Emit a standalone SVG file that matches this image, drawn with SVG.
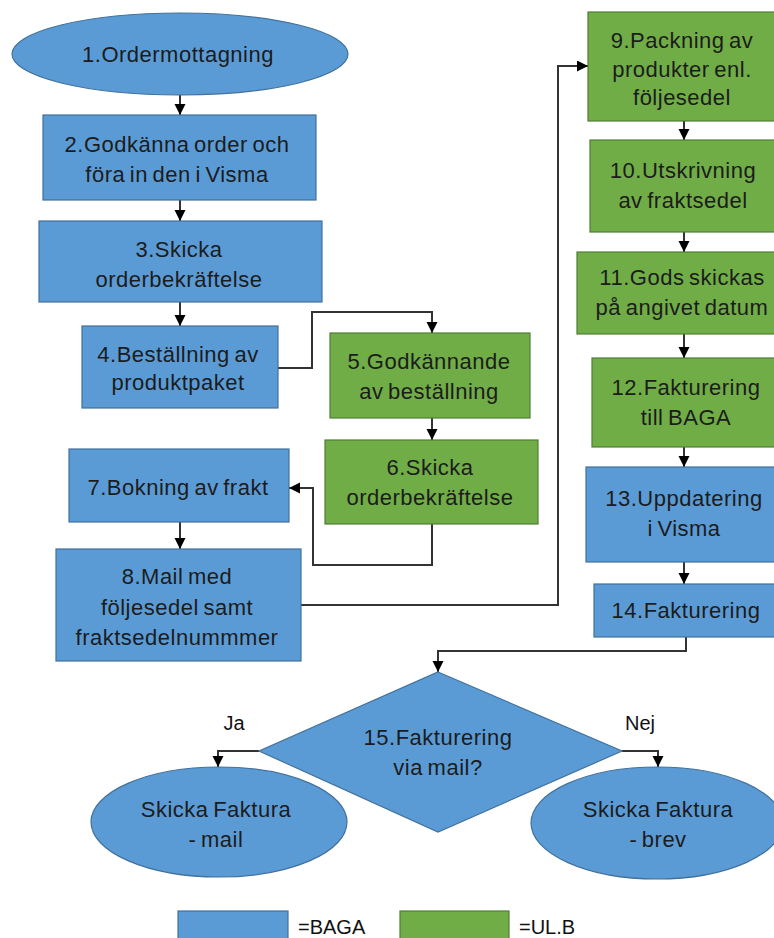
<svg xmlns="http://www.w3.org/2000/svg" width="774" height="938" viewBox="0 0 774 938">
  <defs>
    <marker id="arrow" markerUnits="userSpaceOnUse" markerWidth="12" markerHeight="12" refX="11" refY="5.5" orient="auto">
      <path d="M0,0 L11,5.5 L0,11 z" fill="#000"/>
    </marker>
    <style>
      .baga { fill: #5b9bd5; stroke: #41719c; stroke-width: 1.2; }
      .ulb { fill: #70ad47; stroke: #507e32; stroke-width: 1.2; }
      .lbl { font-family: "Liberation Sans", Arial, sans-serif; font-size: 22px; fill: #1c1c1c; text-anchor: middle; letter-spacing: 0.5px; word-spacing: -2px; }
      .side { font-family: "Liberation Sans", Arial, sans-serif; font-size: 20px; fill: #111; text-anchor: middle; }
      .legend { font-family: "Liberation Sans", Arial, sans-serif; font-size: 20px; fill: #111; }
      .conn { fill: none; stroke: #333; stroke-width: 2; marker-end: url(#arrow); }
      .conn-plain { fill: none; stroke: #333; stroke-width: 2; }
    </style>
  </defs>
  <rect width="774" height="938" fill="#fff"/>

  <!-- connectors -->
  <g id="connectors">
    <path class="conn" d="M180,95 V115"/>
    <path class="conn" d="M180,200 V221"/>
    <path class="conn" d="M180,302 V326"/>
    <path class="conn" d="M278,368 H312 V312 H432 V333"/>
    <path class="conn" d="M432,418 V440"/>
    <path class="conn" d="M432,524 V565 H313 V488 H289"/>
    <path class="conn" d="M180,522 V549"/>
    <path class="conn" d="M301,605 H558 V66 H588"/>
    <path class="conn" d="M684,121 V140"/>
    <path class="conn" d="M684,232 V252"/>
    <path class="conn" d="M684,334 V358"/>
    <path class="conn" d="M684,447 V467"/>
    <path class="conn" d="M684,562 V584"/>
    <path class="conn" d="M686,637 V651 H438 V672"/>
    <path class="conn" d="M259,751 H218 V767"/>
    <path class="conn" d="M622,751 H658 V767"/>
  </g>

  <!-- 1 -->
  <g id="n1">
    <ellipse class="baga" cx="180" cy="54" rx="168" ry="41"/>
    <text class="lbl" x="178" y="62">1.Ordermottagning</text>
  </g>
  <!-- 2 -->
  <g id="n2">
    <rect class="baga" x="43" y="115" width="273" height="85"/>
    <text class="lbl" x="177" y="152">2.Godkänna order och</text>
    <text class="lbl" x="177" y="182">föra in den i Visma</text>
  </g>
  <!-- 3 -->
  <g id="n3">
    <rect class="baga" x="39" y="221" width="283" height="81"/>
    <text class="lbl" x="179" y="257">3.Skicka</text>
    <text class="lbl" x="179" y="287">orderbekräftelse</text>
  </g>
  <!-- 4 -->
  <g id="n4">
    <rect class="baga" x="82" y="326" width="196" height="82"/>
    <text class="lbl" x="178" y="362">4.Beställning av</text>
    <text class="lbl" x="178" y="390">produktpaket</text>
  </g>
  <!-- 5 -->
  <g id="n5">
    <rect class="ulb" x="330" y="333" width="200" height="85"/>
    <text class="lbl" x="429" y="369">5.Godkännande</text>
    <text class="lbl" x="429" y="399">av beställning</text>
  </g>
  <!-- 6 -->
  <g id="n6">
    <rect class="ulb" x="325" y="440" width="213" height="84"/>
    <text class="lbl" x="430" y="475">6.Skicka</text>
    <text class="lbl" x="430" y="505">orderbekräftelse</text>
  </g>
  <!-- 7 -->
  <g id="n7">
    <rect class="baga" x="69" y="449" width="220" height="73"/>
    <text class="lbl" x="178" y="495">7.Bokning av frakt</text>
  </g>
  <!-- 8 -->
  <g id="n8">
    <rect class="baga" x="56" y="549" width="245" height="112"/>
    <text class="lbl" x="177" y="584">8.Mail med</text>
    <text class="lbl" x="177" y="615">följesedel samt</text>
    <text class="lbl" x="177" y="645">fraktsedelnummmer</text>
  </g>
  <!-- 9 -->
  <g id="n9">
    <rect class="ulb" x="588" y="12" width="188" height="109"/>
    <text class="lbl" x="682" y="48">9.Packning av</text>
    <text class="lbl" x="682" y="77">produkter enl.</text>
    <text class="lbl" x="682" y="105">följesedel</text>
  </g>
  <!-- 10 -->
  <g id="n10">
    <rect class="ulb" x="590" y="140" width="186" height="92"/>
    <text class="lbl" x="683" y="178">10.Utskrivning</text>
    <text class="lbl" x="683" y="208">av fraktsedel</text>
  </g>
  <!-- 11 -->
  <g id="n11">
    <rect class="ulb" x="577" y="252" width="209" height="82"/>
    <text class="lbl" x="682" y="285">11.Gods skickas</text>
    <text class="lbl" x="682" y="315">på angivet datum</text>
  </g>
  <!-- 12 -->
  <g id="n12">
    <rect class="ulb" x="592" y="358" width="188" height="89"/>
    <text class="lbl" x="686" y="395">12.Fakturering</text>
    <text class="lbl" x="686" y="425">till BAGA</text>
  </g>
  <!-- 13 -->
  <g id="n13">
    <rect class="baga" x="586" y="467" width="196" height="95"/>
    <text class="lbl" x="684" y="506">13.Uppdatering</text>
    <text class="lbl" x="684" y="536">i Visma</text>
  </g>
  <!-- 14 -->
  <g id="n14">
    <rect class="baga" x="594" y="584" width="184" height="53"/>
    <text class="lbl" x="686" y="618">14.Fakturering</text>
  </g>
  <!-- 15 decision -->
  <g id="n15">
    <polygon class="baga" points="438,672 622,751 438,832 259,751"/>
    <text class="lbl" x="438" y="745">15.Fakturering</text>
    <text class="lbl" x="438" y="775">via mail?</text>
  </g>
  <text class="side" x="234" y="730">Ja</text>
  <text class="side" x="640" y="730">Nej</text>
  <!-- outcomes -->
  <g id="n16">
    <ellipse class="baga" cx="219" cy="822" rx="128" ry="55"/>
    <text class="lbl" x="216" y="817">Skicka Faktura</text>
    <text class="lbl" x="216" y="847">- mail</text>
  </g>
  <g id="n17">
    <ellipse class="baga" cx="657" cy="823" rx="126" ry="56"/>
    <text class="lbl" x="658" y="817">Skicka Faktura</text>
    <text class="lbl" x="658" y="847">- brev</text>
  </g>
  <!-- legend -->
  <g id="legend">
    <rect class="baga" x="178" y="911" width="110" height="32"/>
    <text class="legend" x="298" y="934">=BAGA</text>
    <rect class="ulb" x="400" y="911" width="109" height="32"/>
    <text class="legend" x="519" y="934">=UL.B</text>
  </g>
</svg>
